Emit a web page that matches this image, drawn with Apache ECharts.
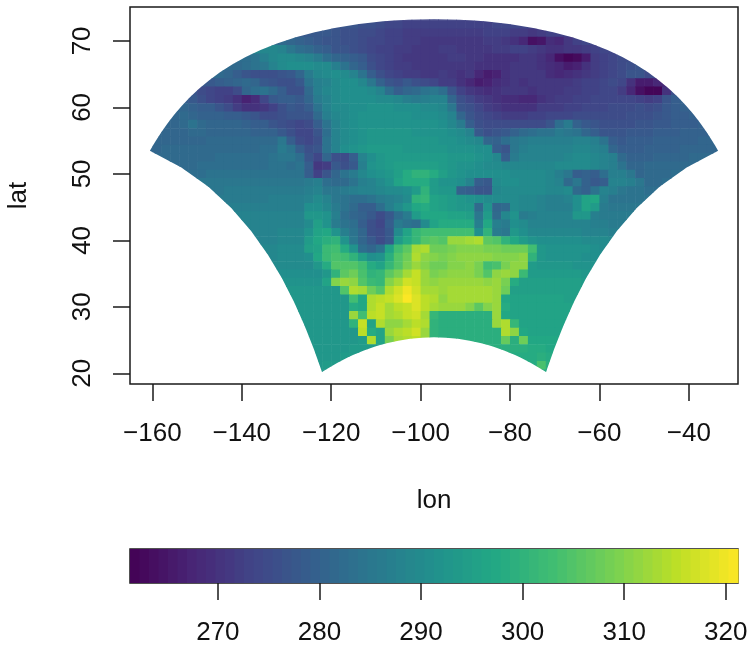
<!DOCTYPE html>
<html>
<head>
<meta charset="utf-8">
<style>
  html, body { margin: 0; padding: 0; background: #fff; }
  #chart { width: 754px; height: 649px; }
</style>
<script src="https://cdn.jsdelivr.net/npm/echarts@6/dist/echarts.min.js"></script>
</head>
<body>
<div id="chart"></div>
<script>
// tick labels
const lonTicks = [-160, -140, -120, -100, -80, -60, -40]
const latTicks = [20, 30, 40, 50, 60, 70]
const tempTicks = [270, 280, 290, 300, 310, 320]
const tempRange = [261.35, 321.2]

// temperature (K), one row per latitude, cells 2 deg wide
// rowLats = centre of row, rowStarts = lon of the first cell, null = no data
const rowLats = [73.75, 72.5, 71.25, 70, 68.75, 67.5, 66.25, 65, 63.75, 62.5, 61.25, 60, 58.75, 57.5, 56.25, 55, 53.75,
  52.5, 51.25, 50, 48.75, 47.5, 46.25, 45, 43.75, 42.5, 41.25, 40, 38.75, 37.5, 36.25, 35, 33.75, 32.5, 31.25, 30,
  28.75, 27.5, 26.25, 25, 23.75, 22.5, 21.25, 20]
const rowStarts = [-105, -115, -123, -131, -135, -139, -143, -145, -147, -151, -153, -153, -155, -157, -159, -159, -161,
  -157, -155, -151, -149, -147, -145, -143, -141, -139, -137, -137, -135, -133, -133, -131, -131, -129, -129, -127,
  -127, -127, -125, -125, -123, -123, -123, -123]
const rowTemps = [
  [274,274,274,274,274,274,274,274,274],
  [277,276,276,275,274,274,273,273,273,273,273,273,273,273,273,273,274,274,274],
  [278,278,277,276,276,275,275,274,273,273,272,272,272,272,272,272,272,272,272,273,273,273,272,272,271,272,273],
  [282,281,280,279,278,277,277,276,276,275,274,274,273,273,272,272,271,271,271,271,271,271,271,272,272,271,270,268,264,265,269,268,271,273,274],
  [289,289,288,285,283,282,280,279,277,277,276,275,274,273,273,272,272,271,271,271,272,272,271,271,271,271,272,272,273,273,272,271,270,270,271,271,272,273,274],
  [283,284,287,289,290,290,289,288,286,283,281,280,279,278,275,274,273,272,271,271,271,271,271,272,272,271,271,270,270,270,270,271,271,270,268,264,262,263,266,272,273,274,275],
  [282,282,283,284,285,288,290,291,291,291,290,290,287,284,281,279,276,274,273,272,272,271,271,271,271,271,271,271,270,270,270,270,271,271,271,270,269,268,266,267,270,272,273,274,275,276,277],
  [282,281,279,277,276,276,276,277,278,281,286,289,290,291,290,288,284,279,276,274,273,272,272,271,271,272,271,270,271,268,266,267,270,271,271,271,271,269,268,269,270,271,272,273,274,275,277,277,275],
  [278,279,280,281,282,281,278,277,276,276,278,284,287,288,290,291,291,289,285,280,277,276,278,276,275,274,272,272,270,268,266,267,269,270,271,270,271,271,271,271,271,272,273,273,274,275,274,270,266,266,268],
  [277,275,274,273,273,275,281,283,284,282,279,276,276,282,287,289,290,291,291,291,290,288,283,279,281,282,284,285,283,277,273,271,270,269,270,271,271,271,270,271,271,271,272,272,273,273,274,274,272,268,264,262,262,270,276],
  [279,278,276,274,273,272,270,267,269,274,278,279,279,278,281,286,288,290,291,291,291,291,290,290,289,287,286,287,288,288,281,276,274,272,271,270,269,269,268,268,270,271,272,272,273,273,274,274,274,274,274,273,272,273,277,279,280],
  [281,280,279,279,277,275,272,270,270,271,273,276,278,277,279,284,288,290,290,291,291,292,292,292,291,291,291,290,290,289,285,277,276,274,272,271,270,270,270,270,272,272,272,273,273,274,274,274,275,275,275,276,275,276,278,279,280],
  [281,282,281,280,280,280,279,279,278,277,275,275,276,277,277,277,282,287,289,290,291,292,292,292,292,292,292,291,291,291,290,288,281,277,275,274,273,272,272,272,273,273,274,274,274,275,275,275,275,275,275,276,276,276,277,278,279,279,280],
  [281,281,282,284,282,281,281,281,281,280,279,279,277,276,275,274,275,279,284,288,290,291,292,292,292,292,292,292,292,292,292,291,289,286,279,276,275,275,275,275,275,275,275,277,283,286,280,278,277,276,276,276,276,277,277,278,278,279,279,279,280],
  [281,281,281,281,282,282,281,281,281,281,281,280,280,280,278,276,274,274,277,283,288,290,291,292,293,293,293,293,293,292,292,292,292,291,290,288,278,276,277,278,280,282,283,284,284,286,285,284,281,279,277,277,277,278,278,278,279,279,279,280,280,280,280],
  [281,281,281,281,281,281,282,282,282,282,282,282,282,282,285,279,275,274,276,284,288,290,291,292,293,293,293,293,293,293,293,293,292,292,291,290,289,281,280,283,285,286,287,287,287,287,287,288,288,287,284,279,278,279,279,279,280,280,280,280,280,281,281],
  [281,281,282,282,282,282,282,282,282,282,282,282,282,283,283,286,284,279,276,277,284,288,291,292,293,294,294,294,294,293,293,293,293,293,292,292,292,291,291,279,277,285,287,288,288,288,288,288,289,289,288,287,281,279,279,279,280,280,280,280,281,281,281,281,281],
  [282,282,282,282,282,282,283,283,283,283,283,283,284,285,285,283,277,274,281,276,275,279,288,291,293,294,294,294,294,294,294,294,293,293,293,292,291,289,279,286,288,288,288,288,288,289,290,290,289,288,287,282,280,280,280,281,281,281,281,282,282],
  [282,282,282,283,283,283,283,283,283,283,283,284,284,283,284,279,271,272,278,276,278,287,292,293,294,295,295,295,295,295,294,293,292,292,291,290,290,289,289,289,289,289,289,290,290,290,290,289,288,287,284,281,281,282,282,282,282,282,282],
  [283,283,284,284,284,284,284,284,284,284,284,284,284,279,273,277,281,284,286,289,291,292,293,295,298,300,300,298,295,293,292,291,291,291,291,291,290,290,290,290,289,287,285,279,280,279,283,287,287,285,281,282,282,282,283],
  [285,285,285,285,285,285,285,285,285,285,285,285,286,287,283,282,282,284,287,288,290,292,296,298,298,298,294,292,292,291,288,279,278,290,291,291,290,290,290,289,288,282,285,280,278,279,288,288,287,285,282,282,283],
  [285,285,286,286,286,286,286,286,286,286,286,287,288,285,285,286,287,288,288,289,290,290,291,294,300,294,293,293,280,279,277,277,289,290,290,290,290,290,289,289,290,282,280,284,288,287,285,284,284,283,283],
  [286,286,286,286,286,286,287,287,287,287,288,290,288,285,284,283,283,284,286,287,288,290,300,301,296,295,294,293,292,291,290,290,290,290,289,289,288,287,287,288,291,296,297,287,284,284,284,284,284],
  [287,287,287,287,287,287,287,287,287,291,291,289,286,284,282,279,279,283,287,290,293,297,298,296,295,294,293,293,282,292,281,282,290,289,289,288,287,287,287,291,296,294,286,285,285,285,285],
  [288,288,288,288,288,288,288,288,293,293,292,287,283,281,280,278,275,278,283,286,294,297,297,297,296,296,295,285,294,282,289,292,286,287,288,288,288,288,293,293,287,286,286,286,286],
  [288,288,288,288,288,288,288,290,295,292,286,284,283,279,276,274,279,286,284,283,290,296,298,298,298,298,287,297,287,286,291,290,288,288,288,288,288,288,288,287,287,286,286],
  [288,288,288,289,289,289,292,296,297,292,287,284,281,276,275,278,290,296,301,303,303,303,303,303,303,291,300,286,285,293,291,289,289,289,289,289,289,288,288,288,287],
  [288,288,288,289,289,289,294,297,299,300,292,285,281,278,275,278,294,298,301,305,306,305,312,312,313,314,306,305,300,297,294,292,291,291,291,291,291,290,290,290,289],
  [289,289,290,290,290,295,296,302,303,298,292,283,281,284,296,303,306,313,314,308,308,309,310,310,310,309,309,308,308,308,303,293,292,292,292,292,292,291,290],
  [289,290,290,290,291,297,302,304,303,300,295,291,292,299,305,308,314,311,310,309,310,311,311,311,311,310,310,310,311,300,293,292,292,292,292,291,291],
  [290,290,290,290,290,293,298,305,305,305,303,298,296,301,305,309,312,310,308,308,310,310,311,309,303,304,309,311,311,294,293,293,293,293,292,292,292],
  [291,291,291,291,291,293,300,306,308,304,300,301,306,309,313,316,312,309,310,311,311,311,309,305,311,312,311,302,294,294,294,294,294,294,293],
  [292,292,292,292,292,296,310,312,311,305,302,301,310,313,317,316,312,311,312,312,312,312,312,311,312,309,298,295,295,295,295,295,295,295,294],
  [293,293,293,293,293,293,305,314,313,308,305,314,317,320,317,313,313,312,313,313,313,313,313,312,308,295,295,295,295,295,295,295,295],
  [293,293,293,293,293,293,293,303,297,314,315,316,318,321,318,315,314,311,313,313,313,313,313,312,297,296,296,296,296,296,296,295,295],
  [293,293,293,293,293,293,298,297,314,316,313,315,316,318,315,313,312,312,312,310,306,310,312,298,296,296,296,296,296,296,296],
  [293,293,293,293,293,293,312,303,315,316,313,314,316,317,313,301,299,299,299,299,299,299,312,297,296,296,296,296,296,296,296],
  [293,293,293,293,293,293,300,316,296,314,311,311,313,315,314,300,299,299,299,299,299,299,312,314,301,296,296,296,296,296,296],
  [293,293,293,293,293,293,315,298,296,312,314,315,317,312,300,299,299,299,299,299,299,299,314,311,297,296,296,296,296],
  [293,293,293,293,293,293,294,314,296,309,313,314,315,312,300,299,299,299,299,299,299,299,307,299,308,297,297,297,297],
  [293,293,293,293,294,294,294,null,null,null,null,null,null,null,null,null,null,null,null,null,299,299,299,299,298,298,297],
  [293,293,293,294,294,null,null,null,null,null,null,null,null,null,null,null,null,null,null,null,null,null,null,298,298,299,298],
  [293,294,294,null,null,null,null,null,null,null,null,null,null,null,null,null,null,null,null,null,null,null,null,null,298,304,299],
  [293,293,null,null,null,null,null,null,null,null,null,null,null,null,null,null,null,null,null,null,null,null,null,null,null,298,298]
]
const viridis = ['#440154', '#482475', '#414487', '#355f8d', '#2a788e', '#21908d', '#22a884', '#42be71', '#7ad151', '#bddf26', '#fde725']

const colorOf = (v) => echarts.color.lerp((v - tempRange[0]) / (tempRange[1] - tempRange[0]), viridis)

// the model domain is a rectangle on a polar stereographic grid centred on 97W
const gridX = 0.2955, gridBottom = -0.632, gridTop = -0.147
const toLonLat = (x, y) => [
  -97 + Math.atan2(x, -y) * 180 / Math.PI,
  90 - 2 * Math.atan(Math.hypot(x, y)) * 180 / Math.PI
]
const outline = []
for (let k = 0; k <= 40; k++) outline.push(toLonLat(-gridX + 2 * gridX * k / 40, gridTop))
for (let k = 1; k <= 10; k++) outline.push(toLonLat(gridX, gridTop + (gridBottom - gridTop) * k / 10))
for (let k = 1; k <= 40; k++) outline.push(toLonLat(gridX - 2 * gridX * k / 40, gridBottom))
for (let k = 1; k <= 9; k++) outline.push(toLonLat(-gridX, gridBottom + (gridTop - gridBottom) * k / 10))

// row cells; the outer cell of a run reaches past the edge and gets clipped to the outline
const cells = []
rowTemps.forEach((row, r) => {
  row.forEach((t, c) => {
    if (t === null) return
    const left = c === 0 || row[c - 1] === null
    const right = c === row.length - 1 || row[c + 1] === null
    const lon = rowStarts[r] + 2 * c
    cells.push([lon - (left ? 7 : 1), lon + (right ? 7 : 1), rowLats[r] - 0.625, rowLats[r] + 0.625, t])
  })
})

// 64 steps like the legend strip
const barCells = []
for (let k = 0; k < 64; k++) {
  const w = (tempRange[1] - tempRange[0]) / 64
  barCells.push([tempRange[0] + k * w, tempRange[0] + (k + 1) * w])
}

const font = 'Liberation Sans'
const ink = '#1a1a1a'
const minus = (v) => String(v).replace('-', '\u2212')
const lineStyle = { color: ink, width: 1.5 }

const chart = echarts.init(document.getElementById('chart'), null, { renderer: 'canvas' })
chart.setOption({
  animation: false,
  grid: [
    { left: 130, right: 16, top: 7, height: 377, show: true, borderColor: ink, borderWidth: 1.5, backgroundColor: '#fff', outerBoundsMode: 'none' },
    { left: 130, right: 16, top: 549, height: 34, show: true, borderColor: ink, borderWidth: 1.5, backgroundColor: 'transparent', outerBoundsMode: 'none' }
  ],
  xAxis: [
    {
      type: 'value', gridIndex: 0, min: -165, max: -29,
      name: 'lon', nameLocation: 'middle', nameGap: 104,
      nameTextStyle: { fontFamily: font, fontSize: 26, color: '#111' },
      splitLine: { show: false }, axisLine: { show: false },
      axisTick: { show: true, length: 17, lineStyle, customValues: lonTicks },
      axisLabel: { fontFamily: font, fontSize: 26, color: '#111', margin: 37, customValues: lonTicks, formatter: minus }
    },
    {
      type: 'value', gridIndex: 1, min: tempRange[0], max: tempRange[1],
      splitLine: { show: false }, axisLine: { show: false },
      axisTick: { show: true, length: 17, lineStyle, customValues: tempTicks },
      axisLabel: { fontFamily: font, fontSize: 26, color: '#111', margin: 37, customValues: tempTicks }
    }
  ],
  yAxis: [
    {
      type: 'value', gridIndex: 0, min: 18.4, max: 75.1,
      name: 'lat', nameLocation: 'middle', nameGap: 98, nameRotate: 90,
      nameTextStyle: { fontFamily: font, fontSize: 26, color: '#111' },
      splitLine: { show: false }, axisLine: { show: false },
      axisTick: { show: true, length: 17, lineStyle, customValues: latTicks },
      axisLabel: { fontFamily: font, fontSize: 26, color: '#111', margin: 34, rotate: 90, customValues: latTicks }
    },
    { type: 'value', gridIndex: 1, min: 0, max: 1, show: false }
  ],
  series: [
    {
      type: 'custom',
      xAxisIndex: 0,
      yAxisIndex: 0,
      coordinateSystem: 'cartesian2d',
      clip: true,
      silent: true,
      data: cells,
      encode: { x: [0, 1], y: [2, 3] },
      renderItem: (params, api) => {
        const a = api.coord([api.value(0), api.value(3)])
        const b = api.coord([api.value(1), api.value(2)])
        return {
          type: 'rect',
          // a bit oversized so no seams show between neighbours
          shape: { x: a[0], y: a[1], width: b[0] - a[0] + 0.6, height: b[1] - a[1] + 0.6 },
          style: { fill: colorOf(api.value(4)) },
          clipPath: { type: 'polygon', shape: { points: outline.map((p) => api.coord(p)) } }
        }
      }
    },
    {
      type: 'custom',
      xAxisIndex: 1,
      yAxisIndex: 1,
      coordinateSystem: 'cartesian2d',
      silent: true,
      data: barCells,
      encode: { x: [0, 1] },
      renderItem: (params, api) => {
        const a = api.coord([api.value(0), 1])
        const b = api.coord([api.value(1), 0])
        return {
          type: 'rect',
          shape: { x: a[0], y: a[1], width: b[0] - a[0] + 0.6, height: b[1] - a[1] },
          style: { fill: colorOf((api.value(0) + api.value(1)) / 2) }
        }
      }
    }
  ]
})
</script>
</body>
</html>
